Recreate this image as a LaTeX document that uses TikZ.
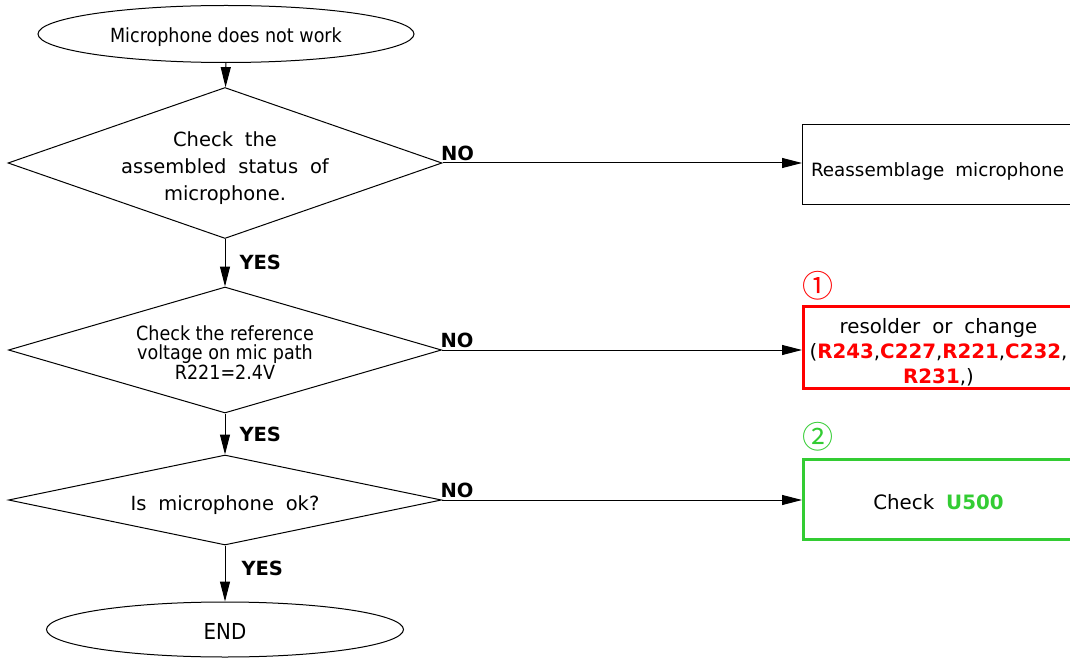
\documentclass[tikz,border=0pt]{standalone}
\usepackage{fontspec}
\setmainfont{DejaVu Sans}[WordSpace=1.9]
\newfontfamily\tahoma{DejaVu Sans Condensed}
\newfontfamily\cjk{Noto Sans CJK SC}
\usetikzlibrary{shapes.geometric, arrows.meta}
\newcommand{\partred}[1]{\textcolor{mired}{\textbf{#1}}}
\newcommand{\partgreen}[1]{\textcolor{migreen}{\textbf{#1}}}

\begin{document}
\begin{tikzpicture}[x=1pt, y=-1pt, line width=1pt,
    terminal/.style={ellipse, draw, inner sep=0pt},
    decision/.style={diamond, draw, inner sep=0pt},
    process/.style={rectangle, draw, inner sep=0pt, anchor=west, minimum width=270pt, minimum height=80pt},
    answer/.style={font=\bfseries\fontsize{19.5}{21}\selectfont, inner sep=2pt},
    flow/.style={-{Triangle[length=20pt, width=10pt]}},
    verd/.style={font=\fontsize{19.5}{#1}\selectfont, align=center},
    tah/.style={font=\tahoma\fontsize{19.5}{#1}\selectfont, align=center},
    marker/.style={font=\cjk\fontsize{31}{33}\selectfont, inner sep=0pt},
]
    % Define colors
    \definecolor{mired}{RGB}{255, 0, 0}
    \definecolor{migreen}{RGB}{51, 204, 51}

    \def\colx{225}
    \def\boxx{802}

    \useasboundingbox (0,0) rectangle (1070,660);

    % Terminals and decisions
    \node[terminal, minimum width=376pt, minimum height=57pt,
        label={[tah=20, yshift=-3.5pt]center:Microphone does not work}] (start) at (226,34) {};
    \node[decision, minimum width=434pt, minimum height=151pt,
        label={[verd=27, yshift=-5pt]center:{Check the\\assembled status of\\microphone.}}] (d1) at (\colx,163) {};
    \node[decision, minimum width=433pt, minimum height=126pt,
        label={[tah=19.5, yshift=-2.5pt]center:{Check the reference\\voltage on mic path\\R221=2.4V}}] (d2) at (\colx,350) {};
    \node[decision, minimum width=433pt, minimum height=90pt,
        label={[verd=20, yshift=-5pt]center:Is microphone ok?}] (d3) at (\colx,500) {};
    \node[terminal, minimum width=357pt, minimum height=55pt,
        label={[tah=20, font=\tahoma\fontsize{22}{24}\selectfont, yshift=-2pt]center:END}] (end) at (\colx,629.5) {};

    % Action boxes
    \node[process, label={[verd=20, font=\fontsize{18.3}{20}\selectfont, yshift=-6pt]center:Reassemblage microphone}] (b1) at (\boxx,165) {};
    \node[process, draw=mired, line width=3pt, minimum height=82pt,
        label={[verd=25, font=\fontsize{19.8}{25}\selectfont, yshift=-5pt]center:{resolder or change\\(\partred{R243},\partred{C227},\partred{R221},\partred{C232},\\\partred{R231},)}}] (b2) at (\boxx,347.5) {};
    \node[process, draw=migreen, line width=3pt, minimum height=80pt,
        label={[verd=20, font=\fontsize{19.8}{21}\selectfont, yshift=-3.5pt]center:Check \partgreen{U500}}] (b3) at (\boxx,499) {};

    % Markers
    \node[marker, text=mired] (m1) at (817.5,286) {①};
    \node[marker, text=migreen] (m2) at (817.5,437) {②};

    % Draw the flow
    \draw[flow] (start) -- (d1);
    \draw[flow] (d1) -- node[answer, right, xshift=12pt] {YES} (d2);
    \draw[flow] (d2) -- node[answer, right, xshift=12pt] {YES} (d3);
    \draw[flow] (d3) -- node[answer, right, xshift=14pt, pos=0.4] {YES} (end);
    \draw[flow] (d1.east) -- node[answer, above right, pos=0, xshift=-4pt] {NO} (d1.east -| b1.west);
    \draw[flow] (d2.east) -- node[answer, above right, pos=0, xshift=-4pt] {NO} (d2.east -| b2.west);
    \draw[flow] (d3.east) -- node[answer, above right, pos=0, xshift=-4pt] {NO} (d3.east -| b3.west);
\end{tikzpicture}
\end{document}
